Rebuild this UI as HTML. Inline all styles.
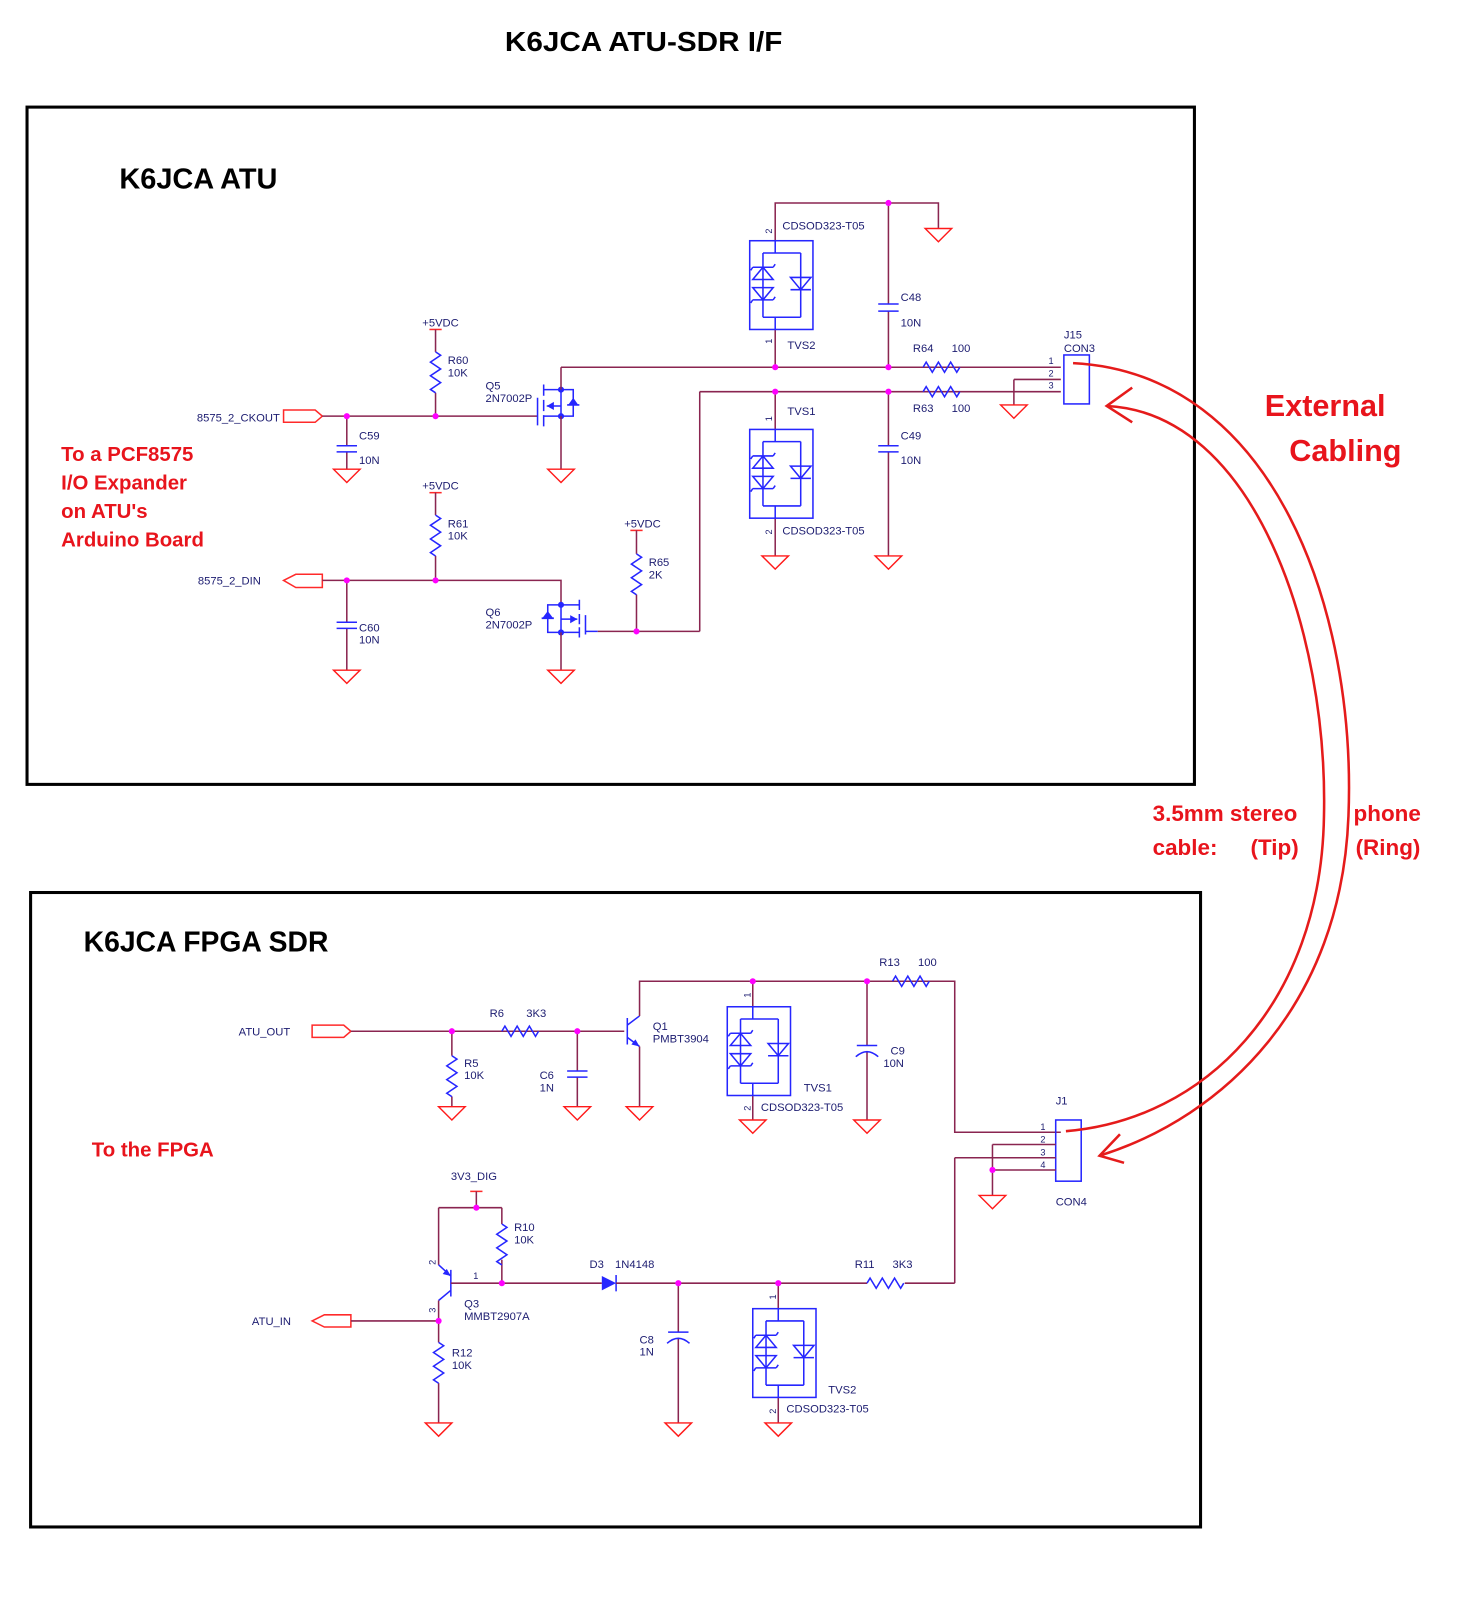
<!DOCTYPE html>
<html><head><meta charset="utf-8">
<style>
html,body{margin:0;padding:0;background:#fff;}
svg{display:block;}
.w{stroke:#8a2550;stroke-width:1.5;fill:none;}
.b{stroke:#2626ff;stroke-width:1.5;fill:none;}
.g{stroke:#ff1a1a;stroke-width:1.4;fill:none;}
.r{stroke:#ff2a2a;stroke-width:1.5;fill:none;}
.j{fill:#ff00ff;}
.t{font-family:"Liberation Sans",Arial,sans-serif;font-size:11px;fill:#1c1c70;}
.n{font-family:"Liberation Sans",Arial,sans-serif;font-size:9px;fill:#1c1c70;}
.h{font-family:"Liberation Sans",Arial,sans-serif;font-weight:bold;fill:#000;}
.red{font-family:"Liberation Sans",Arial,sans-serif;font-weight:bold;fill:#e8141c;}
</style></head><body>
<svg width="1463" height="1600" viewBox="0 0 1434.3 1568.6" preserveAspectRatio="none" xmlns="http://www.w3.org/2000/svg">
<defs>
<path id="gnd" d="M-13,0 H13 L0,13 Z" class="g"/>
<path id="rv" d="M0,0 l5,3.3 l-10,6.7 l10,6.7 l-10,6.7 l10,6.7 l-10,6.7 l5,3.3" class="b"/>
<path id="rh" d="M0,0 l3,-5 l6,10 l6,-10 l6,10 l6,-10 l6,10 l3,-5" class="b"/>
<g id="tvs">
<rect x="0" y="0" width="62" height="87" class="b"/>
<path class="b" d="M25,0 V12 M13,12 H50 M13,12 V75 M50,12 V75 M13,75 H50 M25,75 V87"/>
<path class="b" d="M3,38 H23 L13,26 Z M3,26 H23 M3,26 l-2,3 M23,26 l2,-3"/>
<path class="b" d="M3,46 H23 L13,58 Z M3,58 H23 M3,58 l-2,3 M23,58 l2,-3"/>
<path class="b" d="M40,36 H60 L50,48 Z M40,48 H60"/>
</g>
</defs>

<text x="631" y="50" text-anchor="middle" class="h" font-size="27" textLength="272" lengthAdjust="spacingAndGlyphs">K6JCA ATU-SDR I/F</text>

<!-- ATU box -->
<rect x="26.5" y="105" width="1144.5" height="664" fill="none" stroke="#000" stroke-width="3"/>
<text x="117" y="185" class="h" font-size="28" textLength="155" lengthAdjust="spacingAndGlyphs">K6JCA ATU</text>
<text class="red" font-size="20">
<tspan x="60" y="452">To a PCF8575</tspan>
<tspan x="60" y="480">I/O Expander</tspan>
<tspan x="60" y="508">on ATU's</tspan>
<tspan x="60" y="536">Arduino Board</tspan>
</text>

<!-- CKOUT -->
<text x="193" y="413" class="t">8575_2_CKOUT</text>
<path class="r" d="M278,402 H309 L316,408 L309,414 H278 Z"/>
<path class="w" d="M316,408 H527"/>
<path class="w" d="M340,408 V437 M340,443 V460"/>
<path class="b" d="M330,437 H350 M330,443 H350"/>
<text x="352" y="431" class="t">C59</text><text x="352" y="455" class="t">10N</text>
<use href="#gnd" x="340" y="460"/>
<text x="414" y="320" class="t">+5VDC</text>
<path class="r" d="M421,323 H433"/>
<path class="w" d="M427,323 V345 M427,385 V408"/>
<use href="#rv" x="427" y="345"/>
<text x="439" y="357" class="t">R60</text><text x="439" y="369" class="t">10K</text>
<!-- Q5 -->
<path class="b" d="M527,390 V417 M533,377 V388 M533,392 V403 M533,407 V418 M533,382 H550 M533,408 H550 M550,398 H536 M550,382 V408 M550,382 H562 V408 H550 M556,397 H568"/>
<path d="M536,398 l7,-4 v8 Z" fill="#2626ff"/>
<path d="M562,397 l-5,-7 h10 Z" fill="#2626ff" transform="rotate(180 562 393.5)"/>
<circle cx="550" cy="382" r="3" fill="#2626ff"/><circle cx="550" cy="408" r="3" fill="#2626ff"/>
<path class="w" d="M550,360 V382 M550,408 V460"/>
<use href="#gnd" x="550" y="460"/>
<text x="476" y="382" class="t">Q5</text><text x="476" y="394" class="t">2N7002P</text>

<path class="w" d="M550,360 H1040"/>
<!-- TVS2 top -->
<path class="w" d="M760,323 V360 M760,236 V199 H920 V224"/>
<use href="#tvs" x="735" y="236"/>
<use href="#gnd" x="920" y="224"/>
<text class="n" transform="translate(757,229) rotate(-90)">2</text>
<text x="767" y="225" class="t">CDSOD323-T05</text>
<text class="n" transform="translate(757,337) rotate(-90)">1</text>
<text x="772" y="342" class="t">TVS2</text>
<path class="w" d="M871,199 V298 M871,305 V360"/>
<path class="b" d="M861,298 H881 M861,305 H881"/>
<text x="883" y="295" class="t">C48</text><text x="883" y="320" class="t">10N</text>
<use href="#rh" x="905" y="360"/>
<text x="895" y="345" class="t">R64</text><text x="933" y="345" class="t">100</text>
<path class="w" d="M686,384 H1040 M686,384 V619"/>
<use href="#rh" x="905" y="384"/>
<text x="895" y="404" class="t">R63</text><text x="933" y="404" class="t">100</text>
<path class="w" d="M994,372 H1040 M994,372 V397"/>
<use href="#gnd" x="994" y="397"/>
<rect x="1043" y="348" width="25" height="48" class="b"/>
<text x="1043" y="332" class="t">J15</text><text x="1043" y="345" class="t">CON3</text>
<text x="1028" y="357" class="n">1</text><text x="1028" y="369" class="n">2</text><text x="1028" y="381" class="n">3</text>
<!-- TVS1 -->
<path class="w" d="M760,384 V421 M760,508 V545"/>
<use href="#tvs" x="735" y="421"/>
<use href="#gnd" x="760" y="545"/>
<text class="n" transform="translate(757,413) rotate(-90)">1</text>
<text x="772" y="407" class="t">TVS1</text>
<text class="n" transform="translate(757,524) rotate(-90)">2</text>
<text x="767" y="524" class="t">CDSOD323-T05</text>
<path class="w" d="M871,384 V437 M871,443 V545"/>
<path class="b" d="M861,437 H881 M861,443 H881"/>
<use href="#gnd" x="871" y="545"/>
<text x="883" y="431" class="t">C49</text><text x="883" y="455" class="t">10N</text>
<circle cx="760" cy="360" r="3" class="j"/><circle cx="871" cy="360" r="3" class="j"/>
<circle cx="871" cy="199" r="3" class="j"/>
<circle cx="760" cy="384" r="3" class="j"/><circle cx="871" cy="384" r="3" class="j"/>
<circle cx="340" cy="408" r="3" class="j"/><circle cx="427" cy="408" r="3" class="j"/>

<!-- DIN -->
<text x="194" y="573" class="t">8575_2_DIN</text>
<path class="r" d="M278,569 L290,563 H316 V576 H290 Z"/>
<path class="w" d="M316,569 H550 V593"/>
<path class="w" d="M340,569 V610 M340,616 V657"/>
<path class="b" d="M330,610 H350 M330,616 H350"/>
<use href="#gnd" x="340" y="657"/>
<text x="352" y="619" class="t">C60</text><text x="352" y="631" class="t">10N</text>
<text x="414" y="480" class="t">+5VDC</text>
<path class="r" d="M421,483 H433"/>
<path class="w" d="M427,483 V505 M427,545 V569"/>
<use href="#rv" x="427" y="505"/>
<text x="439" y="517" class="t">R61</text><text x="439" y="529" class="t">10K</text>
<!-- Q6 -->
<path class="b" d="M574,603 V622 M568,588 V598 M568,602 V612 M568,615 V625 M550,593 H568 M550,620 H568 M550,607 H566 M550,593 V620 M550,593 H537 V620 H550 M531,606 H543 M574,619 H586"/>
<path d="M566,607 l-7,-4 v8 Z" fill="#2626ff"/>
<path d="M537,599 l-6,8 h12 Z" fill="#2626ff"/>
<circle cx="550" cy="593" r="3" fill="#2626ff"/><circle cx="550" cy="620" r="3" fill="#2626ff"/>
<path class="w" d="M550,620 V657 M586,619 H686"/>
<use href="#gnd" x="550" y="657"/>
<text x="476" y="604" class="t">Q6</text><text x="476" y="616" class="t">2N7002P</text>
<text x="612" y="517" class="t">+5VDC</text>
<path class="r" d="M618,520 H630"/>
<path class="w" d="M624,520 V543 M624,583 V619"/>
<use href="#rv" x="624" y="543"/>
<text x="636" y="555" class="t">R65</text><text x="636" y="567" class="t">2K</text>
<circle cx="340" cy="569" r="3" class="j"/><circle cx="427" cy="569" r="3" class="j"/>
<circle cx="624" cy="619" r="3" class="j"/>

<!-- red annotations -->
<text x="1240" y="408" class="red" font-size="30">External</text>
<text x="1264" y="452" class="red" font-size="30">Cabling</text>
<text x="1130" y="805" class="red" font-size="22">3.5mm stereo</text>
<text x="1327" y="805" class="red" font-size="22">phone</text>
<text x="1130" y="838" class="red" font-size="22">cable:</text>
<text x="1226" y="838" class="red" font-size="22">(Tip)</text>
<text x="1329" y="838" class="red" font-size="22">(Ring)</text>

<!-- SDR box -->
<rect x="30" y="875" width="1147" height="622" fill="none" stroke="#000" stroke-width="3"/>
<text x="82" y="933" class="h" font-size="28" textLength="240" lengthAdjust="spacingAndGlyphs">K6JCA FPGA SDR</text>
<text x="90" y="1134" class="red" font-size="20">To the FPGA</text>

<text x="234" y="1015" class="t">ATU_OUT</text>
<path class="r" d="M306,1005 H337 L344,1011 L337,1017 H306 Z"/>
<path class="w" d="M344,1011 H612"/>
<path class="w" d="M443,1011 V1035 M443,1075 V1085"/>
<use href="#rv" x="443" y="1035"/>
<use href="#gnd" x="443" y="1085"/>
<text x="455" y="1046" class="t">R5</text><text x="455" y="1058" class="t">10K</text>
<use href="#rh" x="492" y="1011"/>
<text x="480" y="997" class="t">R6</text><text x="516" y="997" class="t">3K3</text>
<path class="w" d="M566,1011 V1050 M566,1056 V1085"/>
<path class="b" d="M556,1050 H576 M556,1056 H576"/>
<use href="#gnd" x="566" y="1085"/>
<text x="529" y="1058" class="t">C6</text><text x="529" y="1070" class="t">1N</text>
<!-- Q1 -->
<path class="b" d="M615,998 V1024 M615,1005 L627,996 M615,1017 L627,1026"/>
<path d="M627,1026 l-8,-2 l4,-5 Z" fill="#2626ff"/>
<path class="w" d="M627,996 V962 H936 V1110 H1040 M627,1026 V1085"/>
<use href="#gnd" x="627" y="1085"/>
<text x="640" y="1010" class="t">Q1</text><text x="640" y="1022" class="t">PMBT3904</text>
<!-- TVS1 sdr -->
<path class="w" d="M738,962 V987 M738,1074 V1098"/>
<use href="#tvs" x="713" y="987"/>
<use href="#gnd" x="738" y="1098"/>
<text class="n" transform="translate(736,978) rotate(-90)">1</text>
<text x="788" y="1070" class="t">TVS1</text>
<text class="n" transform="translate(736,1089) rotate(-90)">2</text>
<text x="746" y="1089" class="t">CDSOD323-T05</text>
<path class="w" d="M850,962 V1025 M850,1031 V1098"/>
<path class="b" d="M840,1025 H860 M839,1036 Q850,1026 861,1036"/>
<use href="#gnd" x="850" y="1098"/>
<text x="873" y="1034" class="t">C9</text><text x="866" y="1046" class="t">10N</text>
<use href="#rh" x="875" y="962"/>
<text x="862" y="947" class="t">R13</text><text x="900" y="947" class="t">100</text>
<circle cx="443" cy="1011" r="3" class="j"/><circle cx="566" cy="1011" r="3" class="j"/>
<circle cx="738" cy="962" r="3" class="j"/><circle cx="850" cy="962" r="3" class="j"/>
<!-- J1 -->
<rect x="1035" y="1098" width="25" height="60" class="b"/>
<text x="1035" y="1083" class="t">J1</text><text x="1035" y="1182" class="t">CON4</text>
<text x="1020" y="1108" class="n">1</text><text x="1020" y="1120" class="n">2</text><text x="1020" y="1133" class="n">3</text><text x="1020" y="1145" class="n">4</text>
<path class="w" d="M973,1122 H1035 M973,1122 V1172 M973,1147 H1035 M936,1135 H1035 M936,1135 V1258"/>
<use href="#gnd" x="973" y="1172"/>
<circle cx="973" cy="1147" r="3" class="j"/>

<!-- lower -->
<text x="442" y="1157" class="t">3V3_DIG</text>
<path class="r" d="M461,1168 H473"/>
<path class="w" d="M467,1168 V1184 M430,1184 H492 M430,1184 V1240 M492,1184 V1200 M492,1235 V1258"/>
<use href="#rv" x="492" y="1200"/>
<text x="504" y="1207" class="t">R10</text><text x="504" y="1219" class="t">10K</text>
<circle cx="467" cy="1184" r="3" class="j"/>
<!-- Q3 -->
<path class="b" d="M442,1245 V1271 M430,1240 L442,1251 M442,1265 L430,1275"/>
<path d="M442,1251 l-8,-2 l4,-5 Z" fill="#2626ff"/>
<path class="w" d="M442,1258 H590 M430,1275 V1316 M430,1356 V1395"/>
<text x="464" y="1254" class="n">1</text>
<text class="n" transform="translate(427,1240) rotate(-90)">2</text>
<text class="n" transform="translate(427,1287) rotate(-90)">3</text>
<text x="455" y="1282" class="t">Q3</text><text x="455" y="1294" class="t">MMBT2907A</text>
<text x="247" y="1299" class="t">ATU_IN</text>
<path class="r" d="M306,1295 L318,1289 H344 V1301 H318 Z"/>
<path class="w" d="M344,1295 H430"/>
<circle cx="430" cy="1295" r="3" class="j"/>
<use href="#rv" x="430" y="1316"/>
<use href="#gnd" x="430" y="1395"/>
<text x="443" y="1330" class="t">R12</text><text x="443" y="1342" class="t">10K</text>
<!-- D3 -->
<path d="M590,1251 V1265 L604,1258 Z" fill="#2626ff"/>
<path class="b" d="M604,1250 V1266"/>
<path class="w" d="M604,1258 H850 M887,1258 H936"/>
<text x="578" y="1243" class="t">D3</text><text x="603" y="1243" class="t">1N4148</text>
<use href="#rh" x="850" y="1258"/>
<text x="838" y="1243" class="t">R11</text><text x="875" y="1243" class="t">3K3</text>
<path class="w" d="M665,1258 V1306 M665,1312 V1395"/>
<path class="b" d="M655,1306 H675 M654,1317 Q665,1307 676,1317"/>
<use href="#gnd" x="665" y="1395"/>
<text x="627" y="1317" class="t">C8</text><text x="627" y="1329" class="t">1N</text>
<path class="w" d="M763,1258 V1283 M763,1370 V1395"/>
<use href="#tvs" x="738" y="1283"/>
<use href="#gnd" x="763" y="1395"/>
<text class="n" transform="translate(761,1274) rotate(-90)">1</text>
<text x="812" y="1366" class="t">TVS2</text>
<text class="n" transform="translate(761,1386) rotate(-90)">2</text>
<text x="771" y="1385" class="t">CDSOD323-T05</text>
<circle cx="492" cy="1258" r="3" class="j"/><circle cx="665" cy="1258" r="3" class="j"/><circle cx="763" cy="1258" r="3" class="j"/>

<!-- cable curves -->
<g stroke="#e51b1b" stroke-width="2.5" fill="none">
<path d="M1052,356 C1250,366 1330,600 1322,800 C1315,985 1200,1095 1078,1133"/>
<path d="M1085,398 C1230,405 1302,620 1298,800 C1295,985 1180,1098 1045,1109"/>
<path d="M1110,380 L1085,398 L1110,414"/>
<path d="M1098,1112 L1078,1133 L1102,1140"/>
</g>
</svg>
</body></html>
